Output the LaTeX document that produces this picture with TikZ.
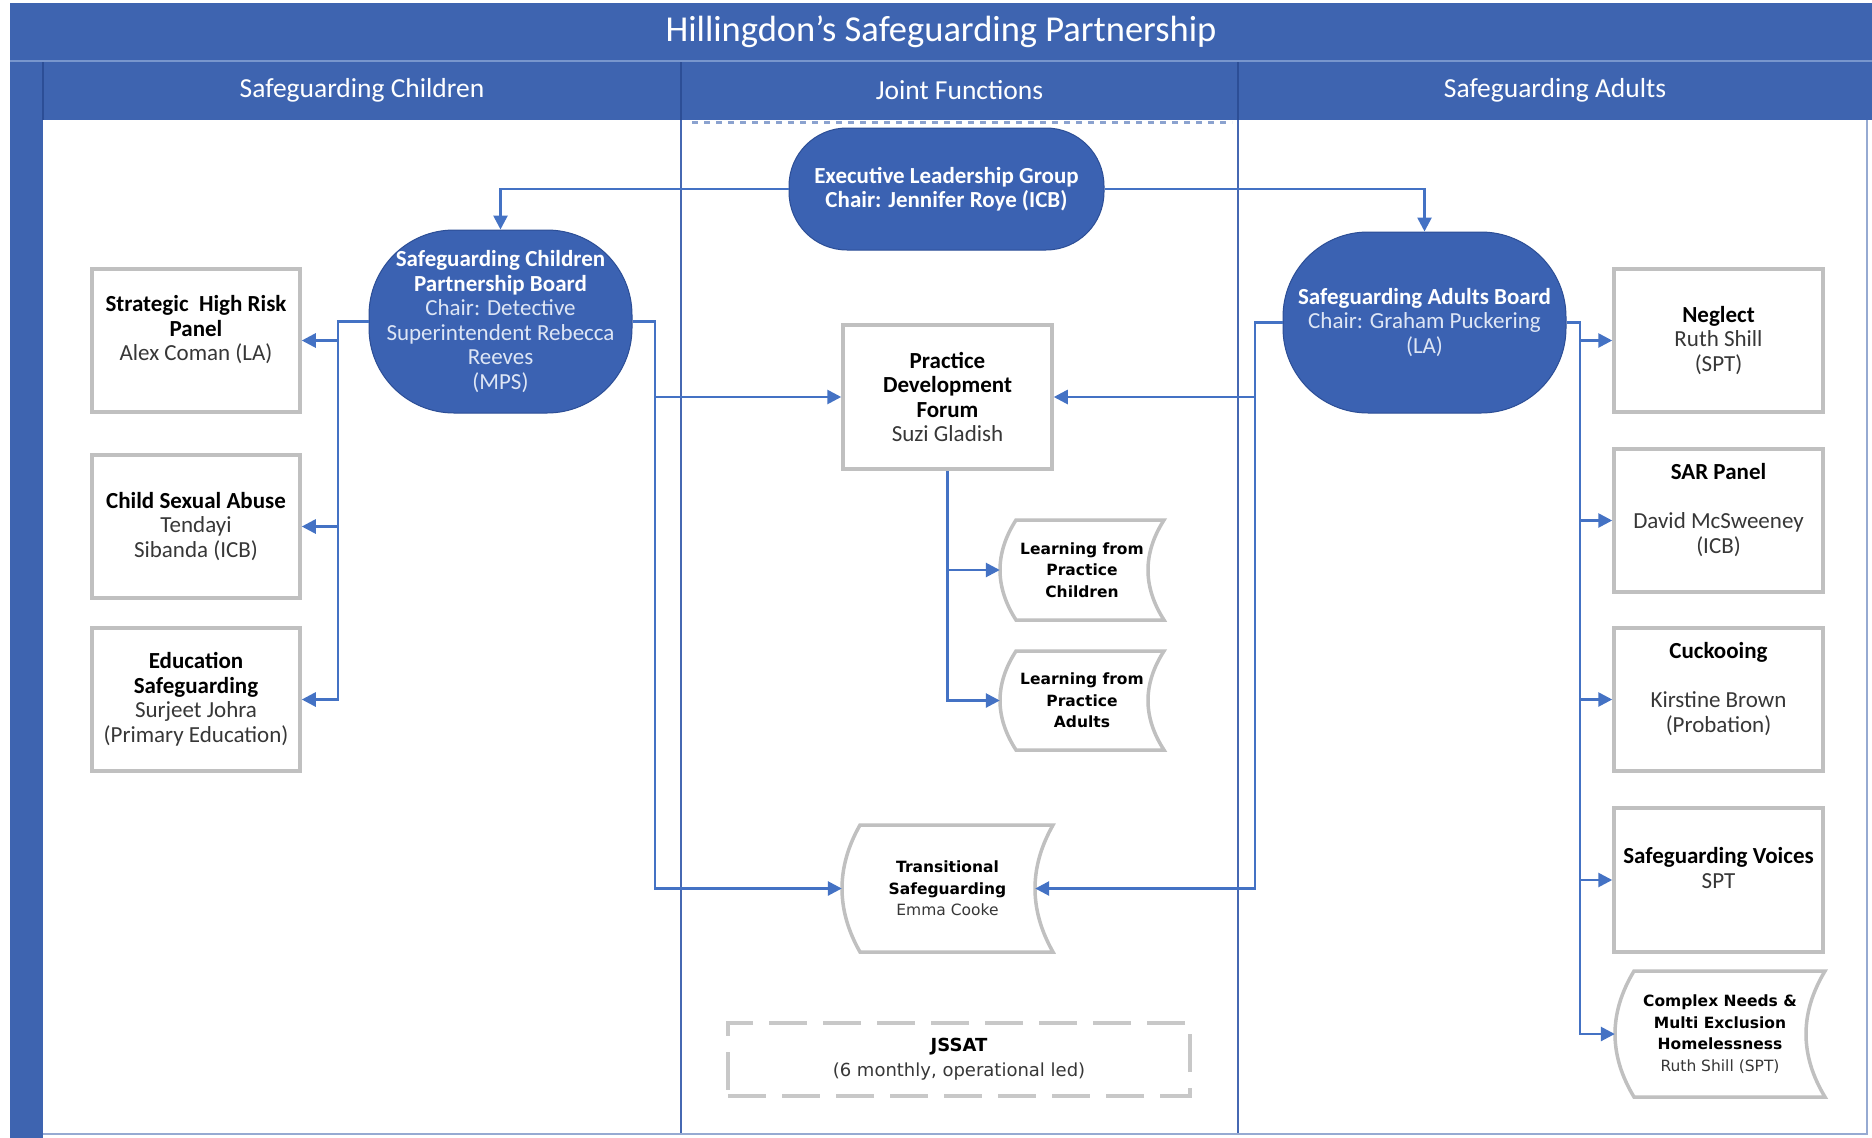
\documentclass[tikz,border=0pt]{standalone}
\usepackage{fontspec}
\setmainfont{Carlito}
\newfontfamily\dvfont{DejaVu Sans}
\usetikzlibrary{arrows.meta}
\definecolor{hdrblue}{RGB}{62,100,176}
\definecolor{hdrdark}{RGB}{44,78,150}
\definecolor{hdrlight}{RGB}{120,150,205}
\definecolor{nodeblue}{RGB}{59,98,178}
\definecolor{lineblue}{RGB}{68,114,196}
\definecolor{divblue}{RGB}{70,104,178}
\definecolor{boxgray}{RGB}{192,192,192}
\definecolor{dashgray}{RGB}{200,200,200}
\definecolor{softwhite}{RGB}{222,230,245}
\definecolor{txtgray}{RGB}{55,55,55}
\definecolor{borderblue}{RGB}{150,170,210}
\newcommand\lite[1]{\textcolor{softwhite}{#1}}
\newcommand\nm[1]{\textcolor{txtgray}{#1}}
\newcommand\wavyshape[5]{%
  \draw[wavyline] ({#1+#5},#3) -- (#2,#3)
    .. controls ({#2-1.3333*#5},{#3+(#4-#3)/3}) and ({#2-1.3333*#5},{#4-(#4-#3)/3}) .. (#2,#4)
    -- ({#1+#5},#4)
    .. controls ({#1-0.3333*#5},{#4-(#4-#3)/3}) and ({#1-0.3333*#5},{#3+(#4-#3)/3}) .. cycle;}
\begin{document}
\begin{tikzpicture}[x=1pt,y=-1pt,
  every node/.style={inner sep=0pt},
  titletext/.style={text=white, font=\fontsize{36.5}{40}\selectfont},
  coltext/.style={text=white, font=\fontsize{27.5}{30}\selectfont},
  bluenode/.style={fill=nodeblue, draw=hdrdark, line width=1pt, text=white, align=center,
    font=\fontsize{23}{24.5}\selectfont},
  graybox/.style={draw=boxgray, line width=3.5pt, fill=white, align=center, text=black,
    font=\fontsize{23}{24.5}\selectfont, minimum width=208pt, minimum height=143pt},
  wavyline/.style={draw=boxgray, line width=3.5pt, fill=white},
  wavytext/.style={align=center, text=black, font=\dvfont\fontsize{15.5}{21.5}\selectfont},
  dashbox/.style={draw=dashgray, line width=3.5pt, dash pattern=on 38pt off 16pt, align=center,
    text=black, font=\dvfont\fontsize{18}{25}\selectfont},
  conn/.style={draw=lineblue, line width=2.7pt},
  arr/.style={conn, -{Triangle[length=14pt,width=14pt]}},
]
\useasboundingbox (0,0) rectangle (1872,1138);
\fill[white] (0,0) rectangle (1872,1138);
% ---- frame ----
\fill[hdrblue] (10,3) rectangle (1872,120);
\fill[hdrblue] (10,120) rectangle (43,1138);
\fill[white] (43,120) rectangle (1866,1134);
\draw[hdrlight, line width=1.5pt] (10,61) -- (1872,61);
\draw[hdrdark, line width=1.5pt] (43,62) -- (43,120) (681,62) -- (681,120) (1238,62) -- (1238,120);
\draw[divblue, line width=2pt] (681,120) -- (681,1134) (1238,120) -- (1238,1134);
\draw[borderblue, line width=2pt] (1867,120) -- (1867,1134) -- (43,1134);
\draw[hdrblue, line width=3pt, dash pattern=on 6pt off 6pt, opacity=0.6] (692,122) -- (1232,122);
% ---- headings ----
\node[titletext] (ttl) at (941,32) {Hillingdon’s Safeguarding Partnership};
\node[coltext] (hc) at (362,90) {Safeguarding Children};
\node[coltext] (hj) at (959.5,90) {Joint Functions};
\node[coltext] (ha) at (1555,90) {Safeguarding Adults};
% ---- blue boards ----
\node[bluenode, rounded corners=58pt, minimum width=315pt, minimum height=122pt] (elg) at (946.5,189)
  {\textbf{Executive Leadership Group}\\\textbf{Chair: Jennifer Roye (ICB)}};
\node[bluenode, rounded corners=85pt, minimum width=263pt, minimum height=183pt] (scpb) at (500.5,321.5)
  {\textbf{Safeguarding Children}\\\textbf{Partnership Board}\\\lite{Chair: Detective}\\\lite{Superintendent Rebecca}\\\lite{Reeves}\\\lite{(MPS)}};
\node[bluenode, rounded corners=85pt, minimum width=283pt, minimum height=181pt] (sab) at (1424.5,322.5)
  {\textbf{Safeguarding Adults Board}\\\lite{Chair: Graham Puckering}\\\lite{(LA)}};
% ---- children boxes ----
\node[graybox] (shrp) at (196,340.5) {\textbf{Strategic\ \ High Risk}\\\textbf{Panel}\\\nm{Alex Coman (LA)}\\\mbox{}};
\node[graybox] (csa) at (196,526.5) {\textbf{Child Sexual Abuse}\\\nm{Tendayi}\\\nm{Sibanda (ICB)}};
\node[graybox] (edu) at (196,699.5) {\textbf{Education}\\\textbf{Safeguarding}\\\nm{Surjeet Johra}\\\nm{(Primary Education)}};
% ---- adults boxes ----
\node[graybox, minimum width=209pt] (neg) at (1718.5,340.5) {\textbf{Neglect}\\\nm{Ruth Shill}\\\nm{(SPT)}};
\node[graybox, minimum width=209pt] (sar) at (1718.5,520.5) {\textbf{SAR Panel}\\\mbox{}\\\nm{David McSweeney}\\\nm{(ICB)}\\\mbox{}};
\node[graybox, minimum width=209pt] (cuck) at (1718.5,699.5) {\textbf{Cuckooing}\\\mbox{}\\\nm{Kirstine Brown}\\\nm{(Probation)}\\\mbox{}};
\node[graybox, minimum width=209pt, minimum height=144pt] (sv) at (1718.5,880) {\textbf{Safeguarding Voices}\\\nm{SPT}\\\mbox{}};
% ---- joint functions ----
\node[graybox, minimum width=209pt, minimum height=144pt] (pdf) at (947.5,397)
  {\textbf{Practice}\\\textbf{Development}\\\textbf{Forum}\\\nm{Suzi Gladish}};
\wavyshape{1000}{1164}{520}{620}{16}
\wavyshape{1000}{1164}{651}{750}{16}
\wavyshape{842}{1053}{825}{952}{18}
\wavyshape{1615}{1825}{971}{1097}{19}
\node[wavytext, minimum width=164pt, minimum height=100pt] (lc) at (1082,570)
  {\textbf{Learning from}\\\textbf{Practice}\\\textbf{Children}};
\node[wavytext, minimum width=164pt, minimum height=99pt] (la) at (1082,700.5)
  {\textbf{Learning from}\\\textbf{Practice}\\\textbf{Adults}};
\node[wavytext, minimum width=211pt, minimum height=127pt] (ts) at (947.5,888.5)
  {\textbf{Transitional}\\\textbf{Safeguarding}\\\nm{Emma Cooke}};
\node[wavytext, minimum width=210pt, minimum height=126pt] (cn) at (1720,1034)
  {\textbf{Complex Needs \&}\\\textbf{Multi Exclusion}\\\textbf{Homelessness}\\\nm{Ruth Shill (SPT)}};
\node[dashbox, minimum width=462pt, minimum height=73pt] (jssat) at (959,1059.5)
  {\textbf{JSSAT}\\\nm{(6 monthly, operational led)}};
% ---- connectors ----
\coordinate (busL) at (338,0);
\coordinate (busR) at (655,0);
\coordinate (busSL) at (1255,0);
\coordinate (busSR) at (1580,0);
\draw[arr] (elg.west) -| (scpb.north);
\draw[arr] (elg.east) -| (sab.north);
% children side
\draw[arr] (scpb.west) -| (busL |- edu.east) -- (edu.east);
\draw[arr] (busL |- shrp.east) -- (shrp.east);
\draw[arr] (busL |- csa.east) -- (csa.east);
% children to joint
\draw[arr] (scpb.east) -| (busR |- ts.west) -- (ts.west);
\draw[arr] (busR |- pdf.west) -- (pdf.west);
% adults to joint
\draw[arr] (sab.west) -| (busSL |- ts.east) -- ([xshift=-18pt]ts.east);
\draw[arr] (busSL |- pdf.east) -- (pdf.east);
% adults side
\draw[arr] (sab.east) -| (busSR |- cn.west) -- (cn.west);
\draw[arr] (busSR |- neg.west) -- (neg.west);
\draw[arr] (busSR |- sar.west) -- (sar.west);
\draw[arr] (busSR |- cuck.west) -- (cuck.west);
\draw[arr] (busSR |- sv.west) -- (sv.west);
% practice development forum to learning
\draw[arr] (pdf.south) |- (la.west);
\draw[arr] (pdf.south |- lc.west) -- (lc.west);
\end{tikzpicture}
\end{document}
